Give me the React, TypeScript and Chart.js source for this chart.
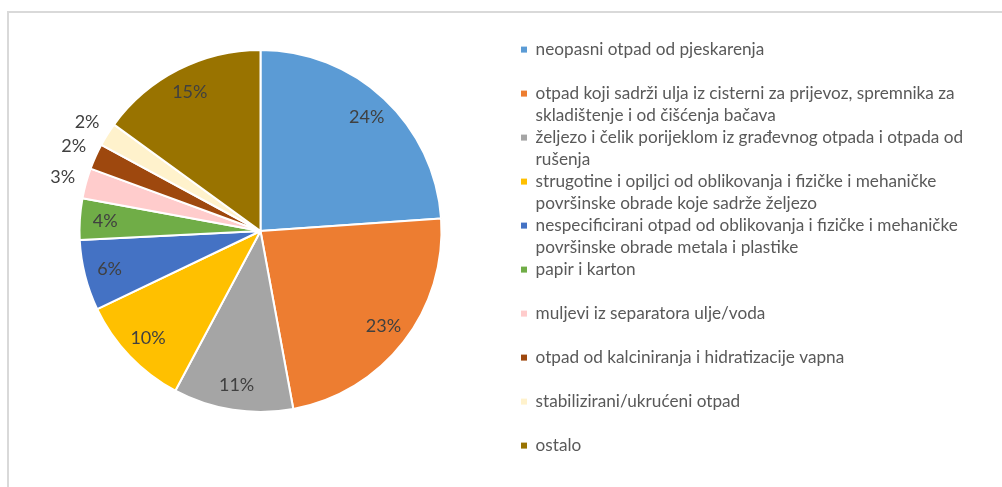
import React, { useEffect, useRef } from 'react';
import { Chart, registerables } from 'chart.js';

Chart.register(...registerables);

const categories: string[][] = [
  ['neopasni otpad od pjeskarenja', ''],
  ['otpad koji sadrži ulja iz cisterni za prijevoz, spremnika za', 'skladištenje i od čišćenja bačava'],
  ['željezo i čelik porijeklom iz građevnog otpada i otpada od', 'rušenja'],
  ['strugotine i opiljci od oblikovanja i fizičke i mehaničke', 'površinske obrade koje sadrže željezo'],
  ['nespecificirani otpad od oblikovanja i fizičke i mehaničke', 'površinske obrade metala i plastike'],
  ['papir i karton', ''],
  ['muljevi iz separatora ulje/voda', ''],
  ['otpad od kalciniranja i hidratizacije vapna', ''],
  ['stabilizirani/ukrućeni otpad', ''],
  ['ostalo', ''],
];

const values: number[] = [23.9, 23.2, 10.7, 10.1, 6.3, 3.7, 2.7, 2.3, 2.1, 15.0];

const colors: string[] = [
  '#5B9BD5', '#ED7D31', '#A5A5A5', '#FFC000', '#4472C4',
  '#70AD47', '#FFCCCC', '#9E480E', '#FFF2CC', '#997300',
];

const FONT = 'Lato';
const LEGEND_X = 521;

const pctLabels = {
  id: 'pctLabels',
  afterDatasetsDraw(chart: any) {
    const ctx = chart.ctx;
    const meta = chart.getDatasetMeta(0);
    const data: number[] = chart.data.datasets[0].data;
    const total = data.reduce((a, b) => a + b, 0);
    ctx.save();
    ctx.font = `18px ${FONT}`;
    ctx.fillStyle = '#404040';
    ctx.textAlign = 'center';
    ctx.textBaseline = 'middle';
    meta.data.forEach((arc: any, i: number) => {
      const p = arc.getProps(['x', 'y', 'startAngle', 'endAngle', 'outerRadius'], true);
      const mid = (p.startAngle + p.endAngle) / 2;
      const pct = (data[i] / total) * 100;
      const r = pct < 3 ? p.outerRadius + 24 : p.outerRadius * 0.86;
      ctx.fillText(Math.round(pct) + '%', p.x + Math.cos(mid) * r, p.y + Math.sin(mid) * r);
    });
    ctx.restore();
  },
};

export default function App() {
  const ref = useRef<HTMLCanvasElement>(null);

  useEffect(() => {
    if (!ref.current) return;
    const options: any = {
      responsive: false,
      animation: false,
      layout: { padding: { left: 0, right: 20, top: 41, bottom: 2 } },
      plugins: {
        tooltip: { enabled: false },
        title: {
          display: true,
          position: 'bottom',
          text: '',
          padding: 0,
          font: { size: 64, lineHeight: 1 },
        },
        legend: {
          position: 'right',
          align: 'start',
          labels: {
            boxWidth: 6,
            boxHeight: 6,
            padding: 0,
            color: '#595959',
            font: { family: FONT, size: 17.2, lineHeight: 22 / 17.2 },
            generateLabels: (chart: any) => {
              const base = (Chart as any).overrides.doughnut.plugins.legend.labels.generateLabels(chart);
              return base.map((it: any) => ({ ...it, lineWidth: 0, strokeStyle: 'rgba(0,0,0,0)' }));
            },
          },
        },
      },
    };
    const chart = new Chart(ref.current, {
      type: 'pie',
      data: {
        labels: categories,
        datasets: [
          {
            data: values,
            backgroundColor: colors,
            borderColor: '#ffffff',
            borderWidth: 2,
            radius: 181,
          },
        ],
      },
      options,
      plugins: [pctLabels],
    });
    const dx = (chart as any).legend.left - LEGEND_X;
    if (Math.abs(dx) > 0.25) {
      options.layout.padding.right += dx;
      chart.update();
    }
    return () => chart.destroy();
  }, []);

  return (
    <>
      <div
        style={{
          position: 'fixed',
          left: 7,
          top: 11,
          right: 0,
          bottom: 0,
          borderTop: '2px solid #d9d9d9',
          borderLeft: '2px solid #d9d9d9',
          boxSizing: 'border-box',
        }}
      />
      <div style={{ position: 'fixed', left: 0, top: 0, width: 1002, height: 487 }}>
        <canvas ref={ref} width={1002} height={487} style={{ display: 'block' }} />
      </div>
    </>
  );
}
